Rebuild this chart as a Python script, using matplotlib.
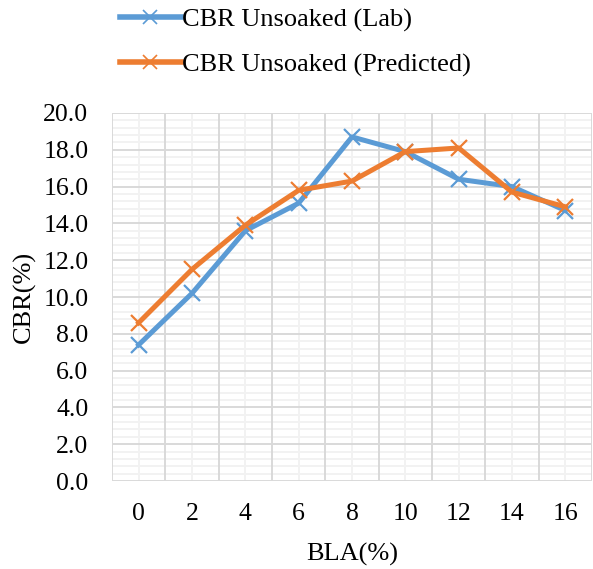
import numpy as np
import matplotlib.pyplot as plt
from matplotlib.ticker import MultipleLocator, FixedLocator

# BLA content (%) and CBR values (%)
bla = ["0", "2", "4", "6", "8", "10", "12", "14", "16"]
cbr_lab = [7.4, 10.2, 13.6, 15.1, 18.7, 17.9, 16.4, 16.0, 14.7]
cbr_pred = [8.6, 11.5, 13.9, 15.8, 16.3, 17.9, 18.1, 15.7, 14.9]

plt.rcParams["font.family"] = ["Liberation Serif", "DejaVu Serif"]

fig = plt.figure(figsize=(5.93, 5.69), dpi=100)
ax = fig.add_axes([112 / 593, (569 - 481) / 569, 480 / 593, 368 / 569])

x = np.arange(len(bla))
ax.plot(x, cbr_lab, color="#5B9BD5", lw=3.6, marker="x", ms=12, mew=1.6,
        label="CBR Unsoaked (Lab)", zorder=3)
ax.plot(x, cbr_pred, color="#ED7D31", lw=3.6, marker="x", ms=12, mew=1.6,
        label="CBR Unsoaked (Predicted)", zorder=4)

ax.set_xlim(-0.5, len(bla) - 0.5)
ax.set_ylim(0, 20)

# category labels sit between the major vertical lines
ax.xaxis.set_major_locator(FixedLocator(x))
ax.set_xticklabels(bla)
ax.yaxis.set_major_locator(MultipleLocator(2))
ax.yaxis.set_major_formatter(lambda v, p: f"{v:.1f}")

ax.grid(False)
for xv in np.arange(-0.5, len(bla), 1.0):
    ax.axvline(xv, color="#D9D9D9", lw=1.4, zorder=1)
for xv in x:
    ax.axvline(xv, color="#F2F2F2", lw=1.4, zorder=0.9)
for yv in np.arange(0, 20.01, 0.4):
    if abs(yv / 2 - round(yv / 2)) < 1e-6:
        ax.axhline(yv, color="#D9D9D9", lw=1.4, zorder=1)
    else:
        ax.axhline(yv, color="#F2F2F2", lw=1.4, zorder=0.9)

for s in ax.spines.values():
    s.set_visible(False)
ax.tick_params(which="both", length=0, labelsize=18.5, colors="#000000")
ax.tick_params(axis="x", pad=16)
ax.tick_params(axis="y", pad=17)

ax.set_xlabel("BLA(%)", fontsize=19, labelpad=13)
ax.set_ylabel("CBR(%)", fontsize=19, labelpad=5)

leg = fig.legend(loc="upper center", bbox_to_anchor=(0.498, 1.028), ncol=1,
                 frameon=False, fontsize=19, handlelength=2.3,
                 handletextpad=0.05, labelspacing=0.8)
for h in leg.get_lines():
    h.set_linewidth(4)
    h.set_markeredgewidth(1.2)
    h.set_markersize(10)

fig.savefig("out.png", dpi=100)
